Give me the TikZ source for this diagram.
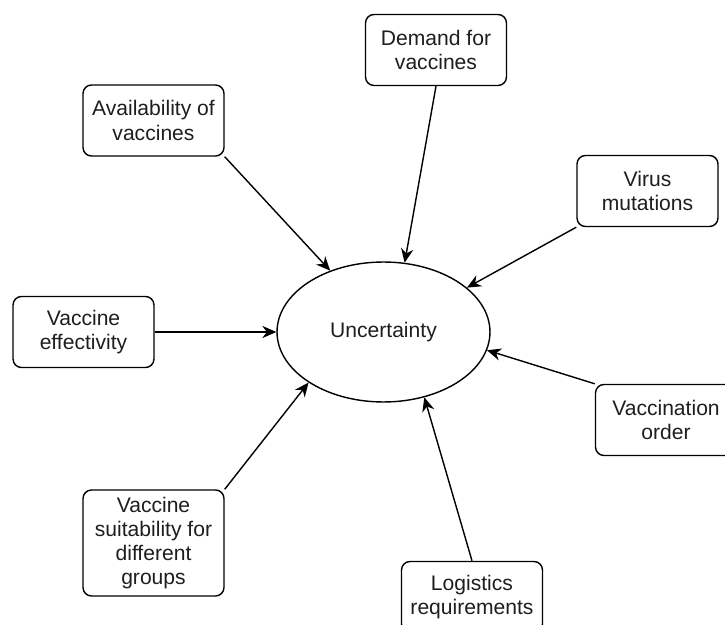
\documentclass[tikz,border=0pt]{standalone}
\usepackage{fontspec}
\setmainfont{Liberation Sans}
\usepackage{tikz}
\usetikzlibrary{arrows.meta,shapes.geometric}
\definecolor{textgray}{RGB}{30, 30, 30}

\begin{document}
\begin{tikzpicture}[x = 0.02cm, y = -0.02cm,
	factor/.style = {draw, rounded corners = 0.17cm, line width = 0.8pt, minimum width = 2.82cm, minimum height = 1.42cm, inner sep = 2pt, align = center, font = \fontsize{12}{13.7}\selectfont, text = textgray},
	hub/.style = {draw, ellipse, line width = 0.8pt, minimum width = 4.26cm, minimum height = 2.8cm, inner sep = 0pt, font = \fontsize{12}{13.7}\selectfont, text = textgray},
	arr/.style = {line width = 0.8pt, -{Stealth[length = 8pt, width = 7pt]}}]
	\useasboundingbox (0, 0) rectangle (725, 625);
	\node[hub] (unc) at (383.5, 332) {Uncertainty};
	\node[factor] (demand) at (436, 50) {Demand for\\vaccines};
	\node[factor] (avail) at (153.5, 120.5) {Availability of\\vaccines};
	\node[factor] (virus) at (647.5, 191) {Virus\\mutations};
	\node[factor] (effect) at (83.5, 332) {Vaccine\\effectivity};
	\node[factor] (order) at (666, 420) {Vaccination\\order};
	\node[factor, minimum height = 2.12cm] (suit) at (153.5, 543) {Vaccine\\suitability for\\different\\groups};
	\node[factor] (logist) at (472, 597) {Logistics\\requirements};
	% arrows into the ellipse
	\draw[arr] (avail.south east) -- (unc.131.8);
	\draw[arr] (demand.south) -- (unc.73);
	\draw[arr] (virus.south west) -- (unc.28.6);
	\draw[arr] (effect.east) -- (unc.west);
	\draw[arr] (order.north west) -- (unc.-10.6);
	\draw[arr] (suit.north east) -- (unc.214.6);
	\draw[arr] (logist.north) -- (unc.-58.6);
\end{tikzpicture}
\end{document}
